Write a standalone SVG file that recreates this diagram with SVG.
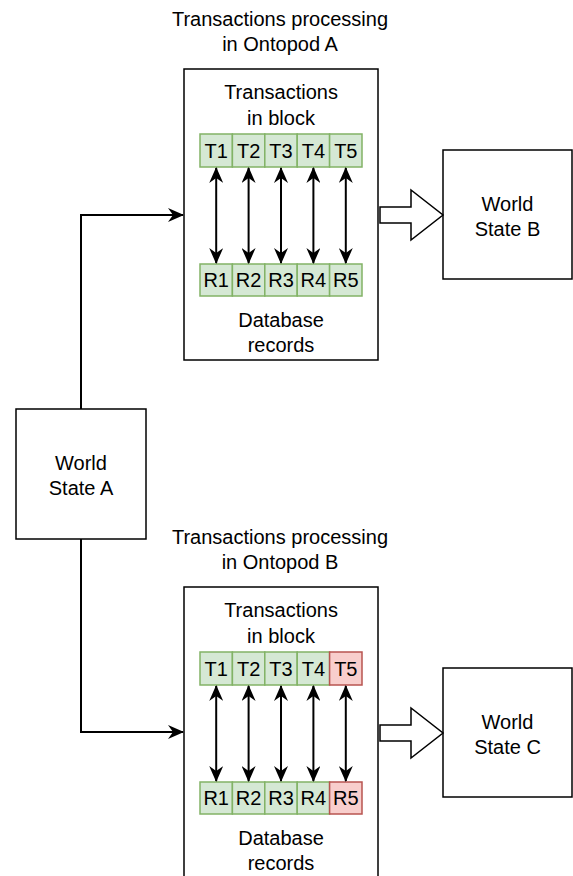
<svg xmlns="http://www.w3.org/2000/svg" width="573" height="876" viewBox="0 0 573 876">
  <defs>
    <marker id="arrow" viewBox="0 0 16 14" refX="15" refY="7" markerWidth="16" markerHeight="14" markerUnits="userSpaceOnUse" orient="auto-start-reverse">
      <path d="M0,0 L16,7 L0,14 L5,7 Z" fill="#000"/>
    </marker>
  </defs>
  <style>
    text { font-family: "Liberation Sans", Arial, sans-serif; font-size: 20px; fill: #000; text-anchor: middle; }
    .box { fill: #fff; stroke: #000; stroke-width: 1.5; }
    .ok { fill: #d5e8d4; stroke: #82b366; stroke-width: 1.5; }
    .bad { fill: #f8cecc; stroke: #b85450; stroke-width: 1.5; }
    .link { fill: none; stroke: #000; stroke-width: 2; marker-start: url(#arrow); marker-end: url(#arrow); }
    .flow { fill: none; stroke: #000; stroke-width: 2; marker-end: url(#arrow); }
  </style>

  <!-- top processing block -->
  <g id="podA">
    <text x="280" y="26">Transactions processing</text>
    <text x="280" y="51">in Ontopod A</text>
    <rect class="box" x="184" y="69" width="194" height="291"/>
    <text x="281" y="98.5">Transactions</text>
    <text x="281" y="124.5">in block</text>
    <text x="281" y="327">Database</text>
    <text x="281" y="352">records</text>
  </g>
  <g id="txA">
    <rect class="ok" x="200" y="134" width="32.4" height="33"/>
    <rect class="ok" x="232.4" y="134" width="32.4" height="33"/>
    <rect class="ok" x="264.8" y="134" width="32.4" height="33"/>
    <rect class="ok" x="297.2" y="134" width="32.4" height="33"/>
    <rect class="ok" x="329.6" y="134" width="32.4" height="33"/>
    <text x="216.2" y="157.5">T1</text>
    <text x="248.6" y="157.5">T2</text>
    <text x="281" y="157.5">T3</text>
    <text x="313.4" y="157.5">T4</text>
    <text x="345.8" y="157.5">T5</text>
  </g>
  <g id="recA">
    <rect class="ok" x="200" y="264" width="32.4" height="32"/>
    <rect class="ok" x="232.4" y="264" width="32.4" height="32"/>
    <rect class="ok" x="264.8" y="264" width="32.4" height="32"/>
    <rect class="ok" x="297.2" y="264" width="32.4" height="32"/>
    <rect class="ok" x="329.6" y="264" width="32.4" height="32"/>
    <text x="216.2" y="287">R1</text>
    <text x="248.6" y="287">R2</text>
    <text x="281" y="287">R3</text>
    <text x="313.4" y="287">R4</text>
    <text x="345.8" y="287">R5</text>
  </g>

  <!-- bottom processing block -->
  <g id="podB">
    <text x="280" y="544">Transactions processing</text>
    <text x="280" y="569">in Ontopod B</text>
    <rect class="box" x="184" y="587" width="194" height="300"/>
    <text x="281" y="616.5">Transactions</text>
    <text x="281" y="642.5">in block</text>
    <text x="281" y="845">Database</text>
    <text x="281" y="870">records</text>
  </g>
  <g id="txB">
    <rect class="ok" x="200" y="652" width="32.4" height="33"/>
    <rect class="ok" x="232.4" y="652" width="32.4" height="33"/>
    <rect class="ok" x="264.8" y="652" width="32.4" height="33"/>
    <rect class="ok" x="297.2" y="652" width="32.4" height="33"/>
    <rect class="bad" x="329.6" y="652" width="32.4" height="33"/>
    <text x="216.2" y="675.5">T1</text>
    <text x="248.6" y="675.5">T2</text>
    <text x="281" y="675.5">T3</text>
    <text x="313.4" y="675.5">T4</text>
    <text x="345.8" y="675.5">T5</text>
  </g>
  <g id="recB">
    <rect class="ok" x="200" y="782" width="32.4" height="32"/>
    <rect class="ok" x="232.4" y="782" width="32.4" height="32"/>
    <rect class="ok" x="264.8" y="782" width="32.4" height="32"/>
    <rect class="ok" x="297.2" y="782" width="32.4" height="32"/>
    <rect class="bad" x="329.6" y="782" width="32.4" height="32"/>
    <text x="216.2" y="805">R1</text>
    <text x="248.6" y="805">R2</text>
    <text x="281" y="805">R3</text>
    <text x="313.4" y="805">R4</text>
    <text x="345.8" y="805">R5</text>
  </g>

  <!-- world states -->
  <g id="worldA">
    <rect class="box" x="16" y="409" width="130" height="130"/>
    <text x="81" y="470">World</text>
    <text x="81" y="495">State A</text>
  </g>
  <g id="worldB">
    <rect class="box" x="443" y="150" width="129" height="129"/>
    <text x="507.5" y="211">World</text>
    <text x="507.5" y="236">State B</text>
  </g>
  <g id="worldC">
    <rect class="box" x="443" y="668" width="129" height="129"/>
    <text x="507.5" y="729">World</text>
    <text x="507.5" y="754">State C</text>
  </g>

  <!-- connectors -->
  <g id="connectors">
    <path class="flow" d="M81,409 V215 H183"/>
    <path class="flow" d="M81,539 V732 H183"/>

    <path class="link" d="M216.2,168 V263"/>
    <path class="link" d="M248.6,168 V263"/>
    <path class="link" d="M281,168 V263"/>
    <path class="link" d="M313.4,168 V263"/>
    <path class="link" d="M345.8,168 V263"/>

    <path class="link" d="M216.2,686 V781"/>
    <path class="link" d="M248.6,686 V781"/>
    <path class="link" d="M281,686 V781"/>
    <path class="link" d="M313.4,686 V781"/>
    <path class="link" d="M345.8,686 V781"/>

    <path class="box" d="M380,207 H411 V190 L443,215 L411,240 V223 H380 Z"/>
    <path class="box" d="M380,725 H411 V708 L443,733 L411,758 V741 H380 Z"/>
  </g>
</svg>
